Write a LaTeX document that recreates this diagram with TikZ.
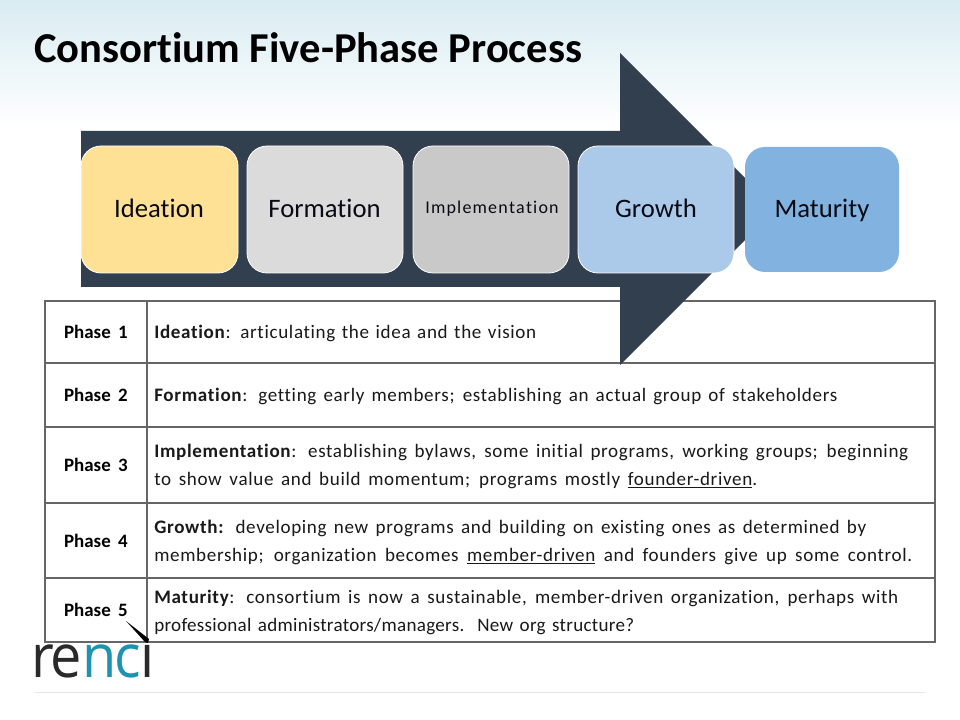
\documentclass[tikz,border=0pt]{standalone}
\usepackage{fontspec}
\setmainfont[RawFeature={-liga}]{Carlito}
\newfontfamily\tabfont[RawFeature={-liga},LetterSpace=3.5]{Carlito}
\newfontfamily\tabfontb[RawFeature={-liga},LetterSpace=1.5]{Carlito}
\newfontfamily\logofont[LetterSpace=-4]{Open Sans}
\definecolor{arrowc}{HTML}{323F4F}
\definecolor{topc}{HTML}{D9ECF2}
\definecolor{linec}{HTML}{666666}
\definecolor{ctxt}{HTML}{0A0A14}
\definecolor{teal}{HTML}{1E93B0}
\definecolor{logod}{HTML}{2A2A2A}
\definecolor{c1}{HTML}{FFE196}
\definecolor{c2}{HTML}{DBDBDB}
\definecolor{c3}{HTML}{C9C9C9}
\definecolor{c4}{HTML}{ABCAEA}
\definecolor{c5}{HTML}{82B2DF}
\tikzset{
  phasebox/.style={rounded corners=15pt,draw=white,line width=0.6pt},
  phaselabel/.style={font=\fontsize{20}{22}\selectfont,text=ctxt,anchor=base,inner sep=0pt},
  rowline/.style={draw=linec,line width=0.85pt},
  txt/.style={font=\tabfont\fontsize{14.3}{17}\selectfont,anchor=base west,inner sep=0pt,text=black!90},
  phasecol/.style={font=\fontsize{14.2}{16}\selectfont\bfseries,anchor=base,inner sep=0pt,text=black}
}
\newcommand{\linefit}[2]{\makebox[\dimexpr #1pt*3/4\relax][s]{#2}}
\begin{document}
\begin{tikzpicture}[x=0.75pt,y=-0.75pt]
\useasboundingbox (0,0) rectangle (960,720);
\fill[white] (0,0) rectangle (960,720);
\shade[top color=topc,bottom color=white] (0,0) rectangle (960,128);
\node[font=\fontsize{27}{32}\selectfont\bfseries,anchor=base west,inner sep=0pt,text=black] (title) at (34,63) {\scalebox{1.183}[1.183]{Consortium Five-Phase Process}};
% table
\draw[rowline] (45,301) rectangle (935,642);
\draw[rowline] (147,301) -- (147,642);
\draw[rowline] (45,363) -- (935,363);
\draw[rowline] (45,427) -- (935,427);
\draw[rowline] (45,503) -- (935,503);
\draw[rowline] (45,578) -- (935,578);
\node[phasecol] (p1) at (96,338) {Phase\ \,1};
\node[phasecol] (p2) at (96,401) {Phase\ \,2};
\node[phasecol] (p3) at (96,471) {Phase\ \,3};
\node[phasecol] (p4) at (96,547) {Phase\ \,4};
\node[phasecol] (p5) at (96,616) {Phase\ \,5};
\node[txt] (t1) at (154,338) {\linefit{382}{\textbf{Ideation}: articulating the idea and the vision}};
\node[txt] (t2) at (154,401) {\linefit{683}{\textbf{Formation}: getting early members; establishing an actual group of stakeholders}};
\node[txt] (t3a) at (154,457) {\linefit{754}{\textbf{Implementation}: establishing bylaws, some initial programs, working groups; beginning}};
\node[txt] (t3b) at (154,485) {\linefit{603}{to show value and build momentum; programs mostly \underline{founder-driven}.}};
\node[txt] (t4a) at (154,533) {\linefit{712}{\textbf{Growth:} developing new programs and building on existing ones as determined by}};
\node[txt] (t4b) at (154,561) {\linefit{758}{membership; organization becomes \underline{member-driven} and founders give up some control.}};
\node[txt] (t5a) at (154,603) {\linefit{744}{\textbf{Maturity}: consortium is now a sustainable, member-driven organization, perhaps with}};
\node[txt,font=\tabfontb\fontsize{14.3}{17}\selectfont] (t5b) at (154,631) {\linefit{480}{professional administrators/managers.\ \ New org structure?}};
% arrow
\fill[arrowc] (81,131) -- (620,131) -- (620,53) -- (776,209) -- (620,365) -- (620,287) -- (81,287) -- cycle;
% phases
\path[phasebox,fill=c1] (81,146) rectangle (238,273);
\path[phasebox,fill=c2] (247,146) rectangle (403,273);
\path[phasebox,fill=c3] (413,146) rectangle (569,273);
\path[phasebox,fill=c4] (578,146) rectangle (734,273);
\path[phasebox,fill=c5,draw=none] (745,147) rectangle (899,272);
\node[phaselabel] (l1) at (159,218) {Ideation};
\node[phaselabel] (l2) at (324.5,218) {Formation};
\node[phaselabel,font=\fontsize{13.5}{16}\selectfont] (l3) at (492,214) {\makebox[100pt][s]{I\hfil m\hfil p\hfil l\hfil e\hfil m\hfil e\hfil n\hfil t\hfil a\hfil t\hfil i\hfil o\hfil n}};
\node[phaselabel] (l4) at (656,218) {Growth};
\node[phaselabel] (l5) at (822,218) {Maturity};
% logo
\begin{scope}
\clip (0,644) rectangle (200,700);
\node[font=\fontsize{45}{45}\logofont,anchor=base west,inner sep=0pt,text=logod] (logo) at (31,677) {\scalebox{0.93}[1]{re\textcolor{teal}{nc}i}};
\end{scope}
\fill[black] (126,621) -- (149,639) -- (148,643) -- (145,642) -- cycle;
\draw[draw=black!10,line width=0.8pt] (35,692.5) -- (925,692.5);
\end{tikzpicture}
\end{document}
